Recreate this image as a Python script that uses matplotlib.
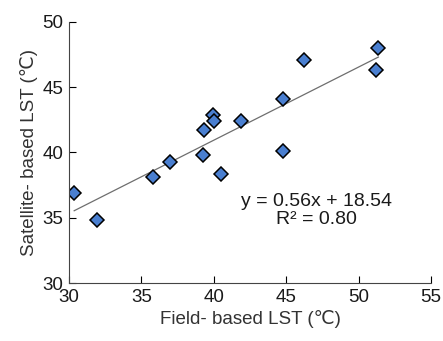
import matplotlib
matplotlib.use("Agg")
import matplotlib.pyplot as plt
import numpy as np

plt.rcParams['font.family'] = ['Liberation Sans', 'DejaVu Sans']

# Field vs satellite LST (deg C)
field_lst = [30.35, 31.96, 35.78, 37.0, 39.23, 39.35, 39.94, 39.99, 40.52,
             41.88, 44.78, 44.78, 46.23, 51.18, 51.36]
sat_lst = [36.93, 34.79, 38.10, 39.30, 39.78, 41.72, 42.87, 42.41, 38.38,
           42.43, 44.06, 40.14, 47.07, 46.31, 47.96]
slope = 0.56
intercept = 18.54
r2 = 0.80

fig = plt.figure(figsize=(4.43, 3.41), dpi=100)
ax = fig.add_axes([0.156, 0.170, 0.817, 0.766])

xs = np.array([min(field_lst), max(field_lst)])
ax.plot(xs, slope * xs + intercept, color="#6e6e6e", lw=0.9, zorder=1)
ax.plot(field_lst, sat_lst, "D", ms=7.6, mfc="#4a7fd0", mec="black", mew=1.1,
        zorder=2)

ax.text(47.1, 35.55, f"y = {slope:.2f}x + {intercept:.2f}\nR² = {r2:.2f}",
        ha="center", va="center", fontsize=14, linespacing=1.05,
        color="#1a1a1a")

ax.set_xlim(30, 55)
ax.set_ylim(30, 50)
ax.set_xticks(range(30, 56, 5))
ax.set_yticks(range(30, 51, 5))
ax.tick_params(direction="in", length=5, width=0.8, labelsize=13.5, pad=4,
               labelcolor="#1a1a1a")
for s in ["top", "right"]:
    ax.spines[s].set_visible(False)
for s in ["left", "bottom"]:
    ax.spines[s].set_linewidth(0.8)
    ax.spines[s].set_color("#444444")

ax.set_xlabel("Field- based LST (℃)", fontsize=13.5, color="#333333", labelpad=3)
ax.set_ylabel("Satellite- based LST (℃)", fontsize=13.5, color="#333333", labelpad=3)

fig.savefig("out.png", dpi=100)
